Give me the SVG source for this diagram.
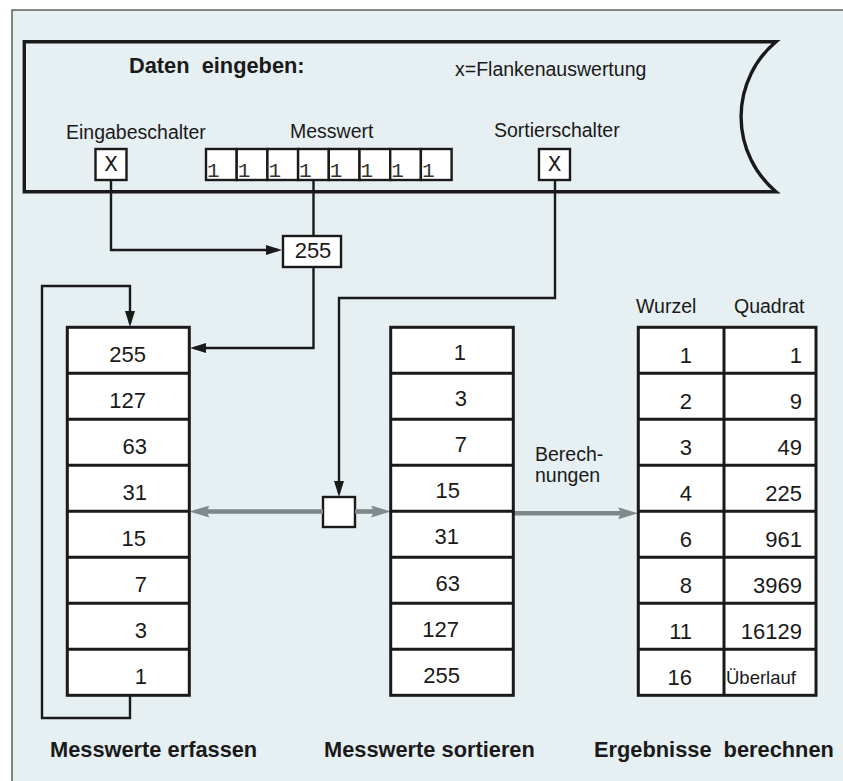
<svg xmlns="http://www.w3.org/2000/svg" width="843" height="781" viewBox="0 0 843 781">
<defs>
<style>
.bg{fill:#e6eff1;stroke:#3a3a3a;stroke-width:1.2}
.frame{fill:none;stroke:#1a1a1a;stroke-width:3.4;stroke-linejoin:miter}
.cell{fill:#fff;stroke:#1a1a1a;stroke-width:2.4}
.tbl{fill:#fff;stroke:#1a1a1a;stroke-width:3}
.sep{stroke:#1a1a1a;stroke-width:3}
.wire{fill:none;stroke:#1a1a1a;stroke-width:2.4}
.flow{fill:none;stroke:#7d8789;stroke-width:4.6}
text{font-family:"Liberation Sans",Arial,sans-serif;fill:#1a1a1a}
.lbl{font-size:19.5px}
.num{font-size:22px}
.end{text-anchor:end}
.mid{text-anchor:middle}
.head{font-size:21.8px;font-weight:bold;white-space:pre}
.mono{font-family:"Liberation Mono","Courier New",monospace;font-size:22px;text-anchor:middle}
.bit{font-family:"Liberation Mono","Courier New",monospace;font-size:21px;fill:#333}
</style>
<marker id="ah" viewBox="0 0 16 10" refX="12" refY="5" markerWidth="16" markerHeight="10" markerUnits="userSpaceOnUse" orient="auto">
<path d="M0,0 L16,5 L0,10 Z" fill="#1a1a1a"/>
</marker>
<marker id="gh" viewBox="0 -6 20 12" refX="3" refY="0" markerWidth="20" markerHeight="12" markerUnits="userSpaceOnUse" orient="auto">
<path d="M0,-6 L20,0 L0,6 L3,0 Z" fill="#808a8c"/>
</marker>
</defs>

<!-- panel background -->
<rect class="bg" x="12" y="10" width="840" height="780"/>

<!-- input banner -->
<g id="input">
<path class="frame" d="M776,41.7 H24.3 V191.7 H776 A98,98 0 0 1 776,41.7 Z"/>
<text class="head" x="129" y="73">Daten  eingeben:</text>
<text class="lbl" x="455" y="76">x=Flankenauswertung</text>
<text class="lbl" x="66" y="138.5">Eingabeschalter</text>
<text class="lbl" x="290" y="138">Messwert</text>
<text class="lbl" x="494" y="137">Sortierschalter</text>
</g>

<g id="eingabeschalter">
<rect class="cell" x="95.5" y="149" width="31" height="31"/>
<text class="mono" x="111" y="171">X</text>
</g>

<g id="sortierschalter">
<rect class="cell" x="539" y="149" width="31" height="31"/>
<text class="mono" x="554.5" y="171">X</text>
</g>

<g id="messwert">
<rect class="cell" x="206" y="149" width="30.7" height="31"/>
<rect class="cell" x="236.7" y="149" width="30.7" height="31"/>
<rect class="cell" x="267.4" y="149" width="30.7" height="31"/>
<rect class="cell" x="298.1" y="149" width="30.7" height="31"/>
<rect class="cell" x="328.8" y="149" width="30.7" height="31"/>
<rect class="cell" x="359.5" y="149" width="30.7" height="31"/>
<rect class="cell" x="390.2" y="149" width="30.7" height="31"/>
<rect class="cell" x="420.9" y="149" width="30.7" height="31"/>
<text class="bit" x="207" y="177">1</text>
<text class="bit" x="237.7" y="177">1</text>
<text class="bit" x="268.4" y="177">1</text>
<text class="bit" x="299.1" y="177">1</text>
<text class="bit" x="329.8" y="177">1</text>
<text class="bit" x="360.5" y="177">1</text>
<text class="bit" x="391.2" y="177">1</text>
<text class="bit" x="421.9" y="177">1</text>
</g>

<g id="wert255">
<rect class="cell" x="283" y="236" width="58" height="31"/>
<text class="num mid" x="313" y="258">255</text>
</g>

<g id="weiche">
<rect class="cell" x="323" y="497" width="32" height="30"/>
</g>

<!-- connectors -->
<g id="connectors">
<path class="wire" d="M111,180 V250 H278" marker-end="url(#ah)"/>
<path class="wire" d="M313.5,180 V236"/>
<path class="wire" d="M313.5,267 V348 H194" marker-end="url(#ah)"/>
<path class="wire" d="M130,695 V718 H42 V286 H130 V323" marker-end="url(#ah)"/>
<path class="wire" d="M555,180 V298 H339 V493" marker-end="url(#ah)"/>
<path class="flow" d="M323,511.5 H206.5" marker-end="url(#gh)"/>
<path class="flow" d="M355,511.5 H374" marker-end="url(#gh)"/>
<path class="flow" d="M513,513.3 H621" marker-end="url(#gh)"/>
<text class="lbl" x="535" y="461">Berech-</text>
<text class="lbl" x="535" y="482">nungen</text>
</g>

<!-- captured values -->
<g id="erfassen">
<rect class="tbl" x="67.3" y="327.3" width="122" height="368"/>
<path class="sep" d="M67.3,373.3 H189.3 M67.3,419.3 H189.3 M67.3,465.3 H189.3 M67.3,511.3 H189.3 M67.3,557.3 H189.3 M67.3,603.3 H189.3 M67.3,649.3 H189.3"/>
<text class="num end" x="146" y="362">255</text>
<text class="num end" x="146" y="408">127</text>
<text class="num end" x="147" y="454">63</text>
<text class="num end" x="147" y="500">31</text>
<text class="num end" x="146" y="546">15</text>
<text class="num end" x="147" y="592">7</text>
<text class="num end" x="147" y="638">3</text>
<text class="num end" x="147" y="684">1</text>
<text class="head" x="50" y="757">Messwerte erfassen</text>
</g>

<!-- sorted values -->
<g id="sortieren">
<rect class="tbl" x="390.7" y="327.3" width="122.6" height="368"/>
<path class="sep" d="M390.7,373.3 H513.3 M390.7,419.3 H513.3 M390.7,465.3 H513.3 M390.7,511.3 H513.3 M390.7,557.3 H513.3 M390.7,603.3 H513.3 M390.7,649.3 H513.3"/>
<text class="num end" x="466" y="360">1</text>
<text class="num end" x="467" y="406">3</text>
<text class="num end" x="467" y="452">7</text>
<text class="num end" x="460" y="498">15</text>
<text class="num end" x="459" y="544">31</text>
<text class="num end" x="460" y="591">63</text>
<text class="num end" x="459" y="637">127</text>
<text class="num end" x="460" y="683">255</text>
<text class="head" x="324" y="757">Messwerte sortieren</text>
</g>

<!-- results -->
<g id="berechnen">
<text class="lbl" x="636" y="313">Wurzel</text>
<text class="lbl" x="734" y="313">Quadrat</text>
<rect class="tbl" x="638.3" y="327.3" width="177.7" height="368"/>
<path class="sep" d="M724,327.3 V695.3 M638.3,373.3 H816 M638.3,419.3 H816 M638.3,465.3 H816 M638.3,511.3 H816 M638.3,557.3 H816 M638.3,603.3 H816 M638.3,649.3 H816"/>
<text class="num end" x="692" y="362.5">1</text>
<text class="num end" x="692" y="408.5">2</text>
<text class="num end" x="692" y="454.5">3</text>
<text class="num end" x="692" y="500.5">4</text>
<text class="num end" x="692" y="546.5">6</text>
<text class="num end" x="692" y="592.5">8</text>
<text class="num end" x="692" y="638.5">11</text>
<text class="num end" x="692" y="684.5">16</text>
<text class="num end" x="802" y="362.5">1</text>
<text class="num end" x="802" y="408.5">9</text>
<text class="num end" x="802" y="454.5">49</text>
<text class="num end" x="802" y="500.5">225</text>
<text class="num end" x="802" y="546.5">961</text>
<text class="num end" x="802" y="592.5">3969</text>
<text class="num end" x="802" y="638.5">16129</text>
<text x="726" y="683.5" style="font-size:18.5px">Überlauf</text>
<text class="head" x="594" y="757">Ergebnisse  berechnen</text>
</g>
</svg>
